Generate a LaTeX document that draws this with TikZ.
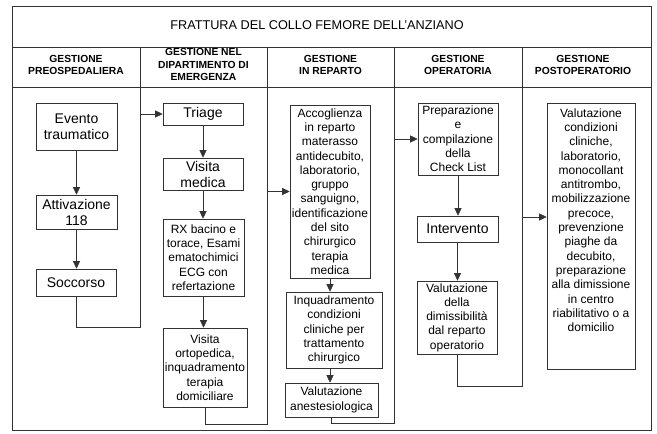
\documentclass[tikz,border=0pt]{standalone}
\usepackage{fontspec}
\setmainfont{Liberation Sans}
\usetikzlibrary{arrows.meta,calc}
\begin{document}
\begin{tikzpicture}[x=1pt,y=-1pt,
  ln/.style={line width=0.6pt, draw=black!80},
  arr/.style={ln, -{Triangle[width=7pt,length=7.5pt]}},
  bx/.style={ln, draw, rectangle, inner xsep=0.5pt, inner ysep=1pt, align=center, font=\fontsize{12}{14.3}\selectfont},
  bbx/.style={bx, font=\fontsize{14}{16}\selectfont},
  pbx/.style={ln, draw, rectangle, inner sep=0pt, font=\fontsize{12}{14.3}\selectfont},
  hd/.style={align=center, font=\fontsize{10.3}{12.3}\selectfont\bfseries},
  ttl/.style={font=\fontsize{12.7}{15}\selectfont}
]
\fill[white] (0,0) rectangle (657,434);
\useasboundingbox (0,0) rectangle (657,434);

% frame
\draw[ln] (12,6) rectangle (651,430);
\draw[ln] (12,47) -- (651,47);
\draw[ln] (12,87) -- (651,87);

% title and headers
\node[ttl] (title) at (317,25) {FRATTURA DEL COLLO FEMORE DELL'ANZIANO};
\node[hd] (h1) at (76,65) {GESTIONE\\PREOSPEDALIERA};
\node[hd] (h2) at (203.5,64.5) {GESTIONE NEL\\DIPARTIMENTO DI\\EMERGENZA};
\node[hd] (h3) at (330.5,65) {GESTIONE\\IN REPARTO};
\node[hd] (h4) at (458,65) {GESTIONE\\OPERATORIA};
\node[hd] (h5) at (583,65) {GESTIONE\\POSTOPERATORIO};

% column 1
\node[bbx, minimum width=81pt, minimum height=47pt] (evento) at (76.5,126.5) {Evento\\traumatico};
\node[bbx, minimum width=81pt, minimum height=34pt] (attiv) at (76.5,212) {Attivazione\\118};
\node[bbx, minimum width=80pt, minimum height=27pt] (socc) at (76,282.5) {Soccorso};

% column 2
\node[bbx, minimum width=80pt, minimum height=22pt] (triage) at (203,114) {Triage};
\node[bbx, minimum width=80pt, minimum height=32pt] (vmed) at (203,174) {Visita\\medica};
\node[bx, minimum width=81pt, minimum height=77pt] (rx) at (203.5,257.5) {RX bacino e\\torace, Esami\\ematochimici\\ECG con\\refertazione};
\node[bx, minimum width=84pt, minimum height=79pt] (orto) at (205,367.5) {Visita\\ortopedica,\\inquadramento\\terapia\\domiciliare};

% column 3
\node[bx, minimum width=80pt, minimum height=173pt] (accog) at (330,191.5) {Accoglienza\\in reparto\\materasso\\antidecubito,\\laboratorio,\\gruppo\\sanguigno,\\identificazione\\del sito\\chirurgico\\terapia\\medica};
\node[bx, minimum width=96pt, minimum height=76pt] (inq) at (334,330) {Inquadramento\\condizioni\\cliniche per\\trattamento\\chirurgico};
\node[bx, minimum width=93pt, minimum height=34pt] (anest) at (331.5,400) {Valutazione\\anestesiologica};

% column 4
\node[bx, minimum width=80pt, minimum height=72pt] (prep) at (458,139) {Preparazione\\e\\compilazione\\della\\Check List};
\node[bbx, minimum width=81pt, minimum height=26pt] (interv) at (457.5,229) {Intervento};
\node[bx, minimum width=80pt, minimum height=73pt] (dimiss) at (457,317.5) {Valutazione\\della\\dimissibilità\\dal reparto\\operatorio};

% column 5
\node[pbx] (post) at (591,236) {\parbox[c][266pt][t]{88pt}{\centering\vspace*{5.5pt}Valutazione\\condizioni\\cliniche,\\laboratorio,\\monocollant\\antitrombo,\\mobilizzazione\\precoce,\\prevenzione\\piaghe da\\decubito,\\preparazione\\alla dimissione\\in centro\\riabilitativo o a\\domicilio}};

% vertical arrows within columns
\draw[arr] (evento.south) -- (evento.south |- attiv.north);
\draw[arr] (attiv.south) -- (attiv.south |- socc.north);
\draw[arr] (triage.south) -- (triage.south |- vmed.north);
\draw[arr] (vmed.south) -- (vmed.south |- rx.north);
\draw[arr] (rx.south) -- (rx.south |- orto.north);
\draw[arr] (accog.south) -- (accog.south |- inq.north);
\draw[arr] (accog.south |- inq.south) -- (accog.south |- anest.north);
\draw[arr] (prep.south) -- (prep.south |- interv.north);
\draw[arr] (interv.south) -- (interv.south |- dimiss.north);

% connectors between columns (also lane dividers)
\coordinate (d1b) at (140,327);
\coordinate (d2b) at (267,424);
\coordinate (d3b) at (394,423);
\coordinate (d4b) at (522,386);
\coordinate (d4a) at (522,217);
\draw[ln] (140,47) -- (d1b);
\draw[ln] (267,47) -- (d2b);
\draw[ln] (394,47) -- (d3b);
\draw[ln] (522,47) -- (d4b);
\draw[arr] (socc.south) |- (d1b) |- (triage.west);
\draw[arr] (orto.south) |- (d2b) |- (accog.west);
\draw[arr] (anest.south) |- (d3b) |- (prep.west);
\draw[arr] (dimiss.south) |- (d4b) -- (d4a) -- (d4a -| post.west);
\end{tikzpicture}
\end{document}
